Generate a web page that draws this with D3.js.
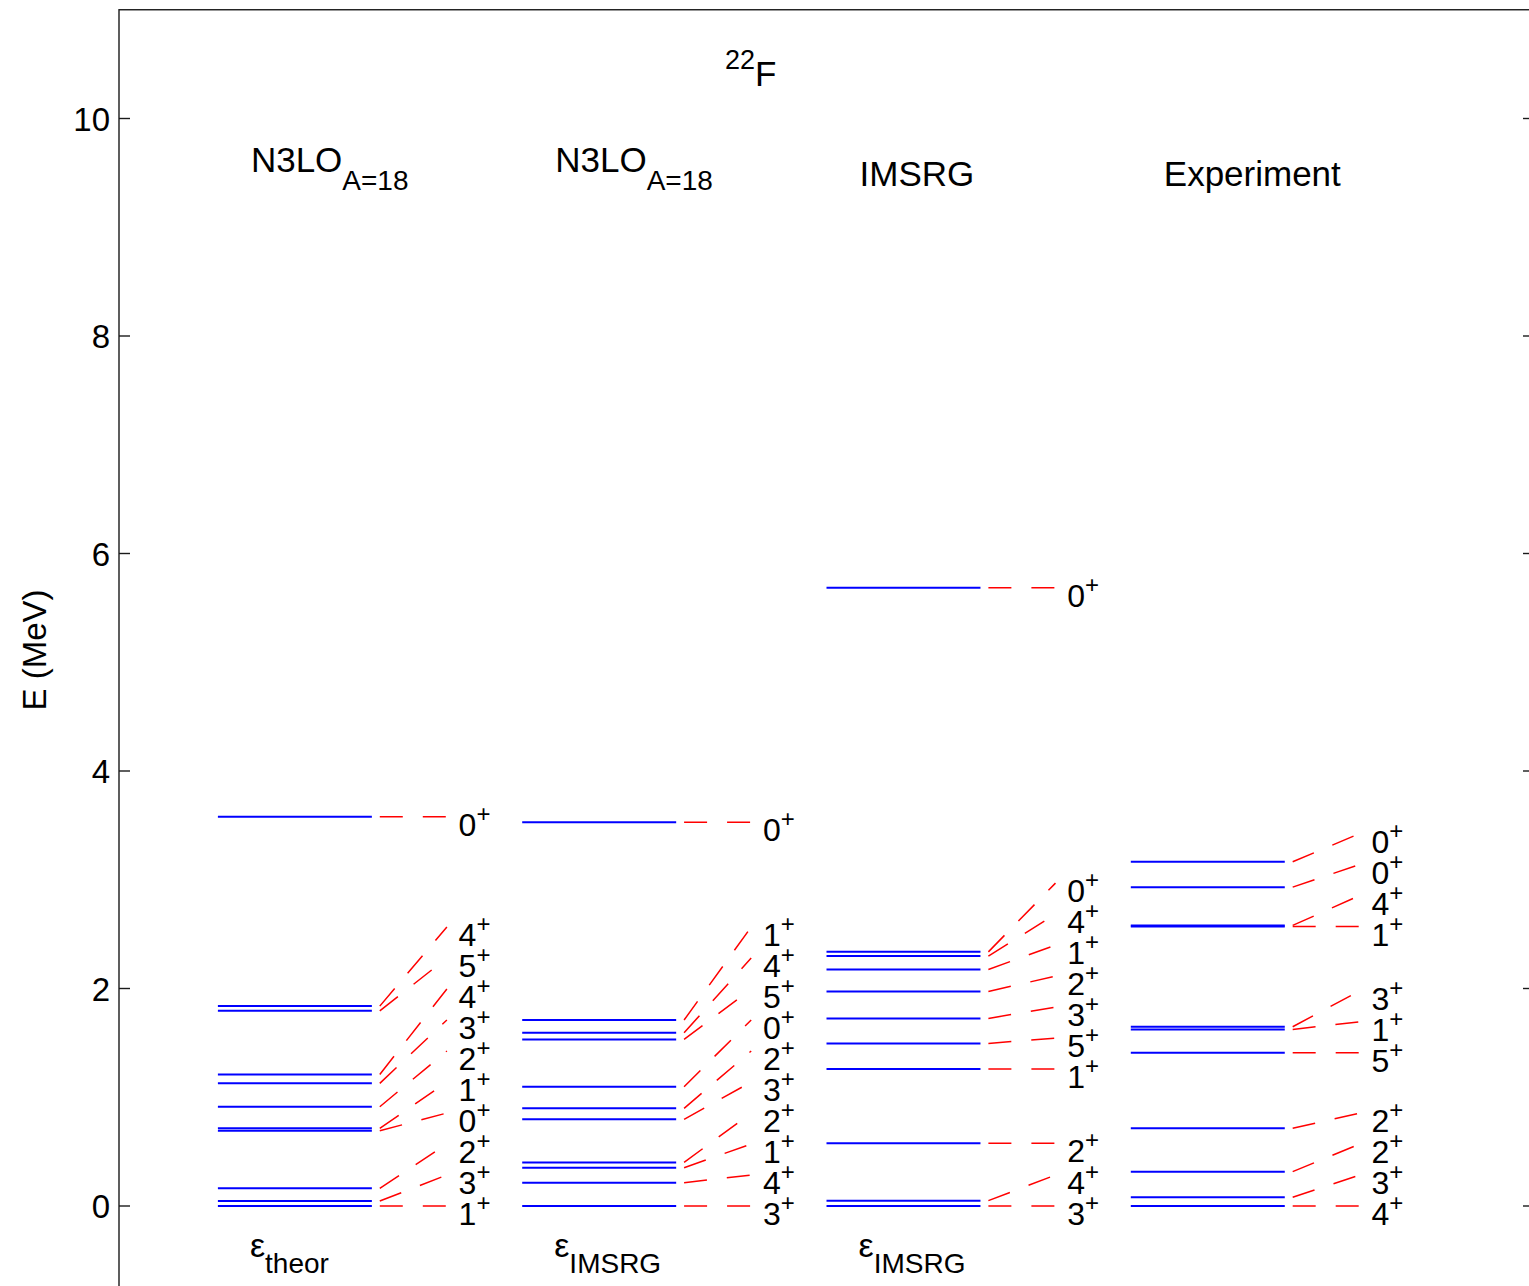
<!DOCTYPE html>
<html>
<head>
<meta charset="utf-8">
<script src="https://cdn.jsdelivr.net/npm/d3@7"></script>
<style>
  html, body { margin: 0; padding: 0; background: #fff; }
  svg { display: block; font-family: "Liberation Sans", Arial, sans-serif; }
</style>
</head>
<body>
<svg id="chart" width="1529" height="1286"></svg>
<script>
// ---------------- data ----------------
const columnTitles = ["N3LO", "N3LO", "IMSRG", "Experiment"];
const columnTitleSubs = ["A=18", "A=18", "", ""];
const bottomSubs = ["theor", "IMSRG", "IMSRG", ""];
const nucleusMass = "22";
const nucleusSymbol = "F";

const energiesN3LOtheor = [0, 0.046, 0.163, 0.692, 0.714, 0.913, 1.128, 1.210, 1.795, 1.838, 3.58];
const spinsN3LOtheor    = ["1", "3", "2", "0", "1", "2", "3", "4", "5", "4", "0"];

const energiesN3LOimsrg = [0, 0.214, 0.352, 0.401, 0.797, 0.898, 1.097, 1.532, 1.593, 1.710, 3.528];
const spinsN3LOimsrg    = ["3", "4", "1", "2", "3", "2", "0", "5", "4", "1", "0"];

const energiesIMSRG = [0, 0.049, 0.576, 1.259, 1.495, 1.725, 1.973, 2.175, 2.298, 2.337, 5.686];
const spinsIMSRG    = ["3", "4", "2", "1", "5", "3", "2", "1", "4", "0", "0"];

const energiesExp = [0, 0.080, 0.316, 0.714, 1.409, 1.624, 1.648, 2.570, 2.580, 2.932, 3.165];
const spinsExp    = ["4", "3", "2", "2", "5", "1", "3", "1", "4", "0", "0"];

const yTicks = [0, 2, 4, 6, 8, 10];
const yLabel = "E (MeV)";

const columns = [
  { E: energiesN3LOtheor, J: spinsN3LOtheor },
  { E: energiesN3LOimsrg, J: spinsN3LOimsrg },
  { E: energiesIMSRG,     J: spinsIMSRG },
  { E: energiesExp,       J: spinsExp }
];

// ---------------- layout ----------------
const svg = d3.select("#chart");
const x = d3.scaleLinear().domain([0, 4.65]).range([119, 1534]);
const y = d3.scaleLinear().domain([-1, 11]).range([1314.75, 9.75]);

const colStart = i => 0.325 + i;
const lineW = 0.506, dashStart = 0.532, dashEnd = 0.7525, labelOff = 0.791;
const minSep = 0.285;

// frame
svg.append("rect")
  .attr("x", x(0)).attr("y", y(11))
  .attr("width", x(4.65) - x(0)).attr("height", y(-1) - y(11))
  .attr("fill", "none").attr("stroke", "#1a1a1a").attr("stroke-width", 1.4);

// ticks (inward, both sides)
const tickLen = 11;
svg.append("g").selectAll("line.tl").data(yTicks).join("line")
  .attr("x1", x(0)).attr("x2", x(0) + tickLen)
  .attr("y1", d => y(d)).attr("y2", d => y(d))
  .attr("stroke", "#1a1a1a").attr("stroke-width", 1.4);
svg.append("g").selectAll("line.tr").data(yTicks).join("line")
  .attr("x1", x(4.65)).attr("x2", x(4.65) - tickLen)
  .attr("y1", d => y(d)).attr("y2", d => y(d))
  .attr("stroke", "#1a1a1a").attr("stroke-width", 1.4);
svg.append("g").selectAll("text").data(yTicks).join("text")
  .attr("x", x(0) - 9).attr("y", d => y(d) + 12)
  .attr("text-anchor", "end").attr("font-size", 33).attr("fill", "#000")
  .text(d => d);

// y label
svg.append("text")
  .attr("transform", "translate(46,650) rotate(-90)")
  .attr("text-anchor", "middle").attr("font-size", 33).attr("fill", "#000")
  .text(yLabel);

// nucleus title
const t = svg.append("text").attr("x", 725).attr("y", 86).attr("fill", "#000");
t.append("tspan").attr("font-size", 27).attr("dy", -17).text(nucleusMass);
t.append("tspan").attr("font-size", 35).attr("dy", 17).text(nucleusSymbol);

// column titles
columnTitles.forEach((name, i) => {
  const sub = columnTitleSubs[i];
  const tx = svg.append("text").attr("x", x(colStart(i)) + 33)
    .attr("y", sub ? 172 : 186).attr("font-size", 35).attr("fill", "#000");
  tx.append("tspan").text(name);
  if (sub) tx.append("tspan").attr("font-size", 28).attr("dy", 18).text(sub);
});

// bottom epsilon labels
bottomSubs.forEach((sub, i) => {
  if (!sub) return;
  const tx = svg.append("text").attr("x", x(colStart(i)) + 32)
    .attr("y", 1257).attr("font-size", 34).attr("fill", "#000");
  tx.append("tspan").text("ε");
  tx.append("tspan").attr("font-size", 28).attr("dy", 16).text(sub);
});

// levels
columns.forEach((col, i) => {
  const x0 = colStart(i);
  const g = svg.append("g");
  // label positions: push upward to keep minimum separation
  const labelE = [];
  col.E.forEach((e, k) => {
    labelE.push(k === 0 ? e : Math.max(e, labelE[k - 1] + minSep));
  });
  const levels = col.E.map((e, k) => ({ e, j: col.J[k], le: labelE[k] }));

  g.selectAll("line.lvl").data(levels).join("line")
    .attr("x1", x(x0)).attr("x2", x(x0 + lineW))
    .attr("y1", d => y(d.e)).attr("y2", d => y(d.e))
    .attr("stroke", "#0000ff").attr("stroke-width", 2);

  g.selectAll("line.con").data(levels).join("line")
    .attr("x1", x(x0 + dashStart)).attr("x2", x(x0 + dashEnd))
    .attr("y1", d => y(d.e)).attr("y2", d => y(d.le))
    .attr("stroke", "#ff0000").attr("stroke-width", 1.5)
    .attr("stroke-dasharray", "23,20");

  const lt = g.selectAll("text").data(levels).join("text")
    .attr("x", x(x0 + labelOff)).attr("y", d => y(d.le) + 19)
    .attr("font-size", 32).attr("fill", "#000");
  lt.append("tspan").text(d => d.j);
  lt.append("tspan").attr("font-size", 24).attr("dy", -14).text("+");
});
</script>
</body>
</html>
